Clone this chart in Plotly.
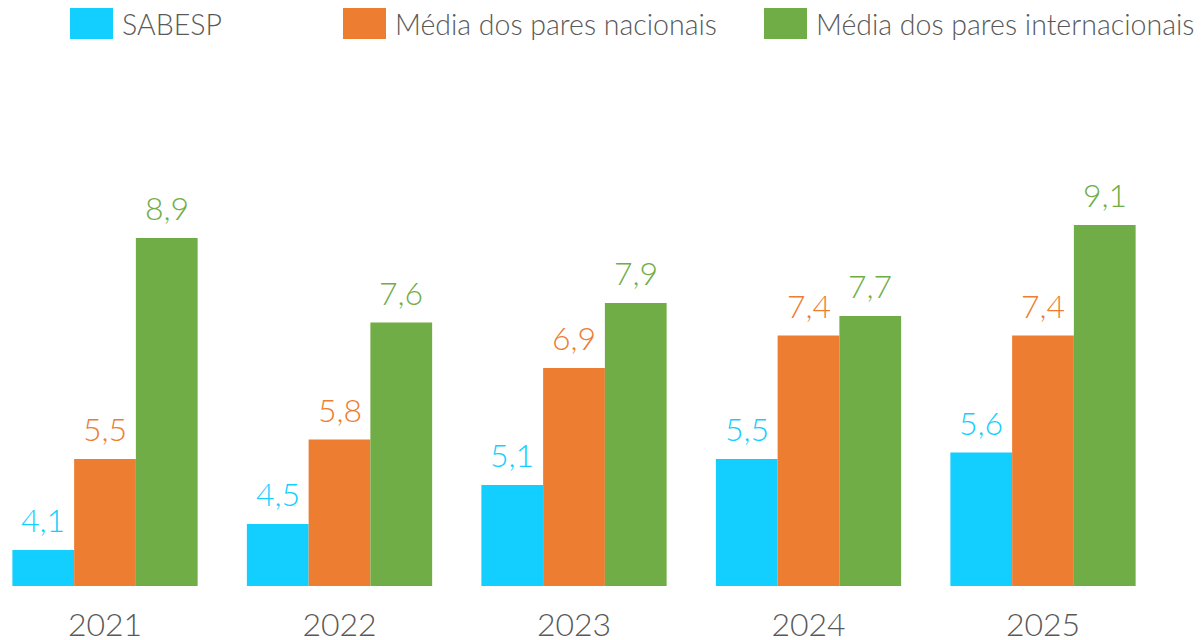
import plotly.graph_objects as go

anos = ["2021", "2022", "2023", "2024", "2025"]
series = ["SABESP", "Média dos pares nacionais", "Média dos pares internacionais"]
sabesp = [4.1, 4.5, 5.1, 5.5, 5.6]
nacionais = [5.5, 5.8, 6.9, 7.4, 7.4]
internacionais = [8.9, 7.6, 7.9, 7.7, 9.1]
cores = ["#13CFFF", "#ED7D31", "#70AD47"]

FONTE = "Lato"
CINZA = "#595959"

W, H = 1202, 640
plot_bottom = 586
x_range = [-0.4478, 4.678]
bargap = 0.21
# largura de uma barra em pixels (para posicionar os rótulos)
px_por_cat = W / (x_range[1] - x_range[0])
larg_barra = px_por_cat * (1 - bargap) / 3

fig = go.Figure()
for k, (nome, valores, cor) in enumerate(zip(series, [sabesp, nacionais, internacionais], cores)):
    fig.add_trace(go.Bar(
        x=anos, y=valores, name=nome,
        marker=dict(color=cor, line=dict(width=0)),
        showlegend=False, hoverinfo="skip",
    ))
    # rótulos de valor acima das barras
    for i, v in enumerate(valores):
        fig.add_annotation(
            x=i, y=v, text=f"{v:.1f}".replace(".", ","),
            xshift=(k - 1) * larg_barra, yshift=30,
            yanchor="middle", showarrow=False,
            font=dict(family=FONTE, size=32, color=cor, weight=300),
        )

# legenda desenhada à mão (quadrados grandes)
leg_x = [70, 343, 764]
for nome, cor, x0 in zip(series, cores, leg_x):
    fig.add_shape(type="rect", xref="paper", yref="paper",
                  x0=x0 / W, x1=(x0 + 43) / W,
                  y0=(plot_bottom - 39) / plot_bottom, y1=(plot_bottom - 8) / plot_bottom,
                  fillcolor=cor, line=dict(width=0))
    fig.add_annotation(text=nome, xref="paper", yref="paper",
                       x=(x0 + 50) / W, y=(plot_bottom - 24) / plot_bottom,
                       xanchor="left", yanchor="middle", showarrow=False,
                       font=dict(family=FONTE, size=28.5, color=CINZA, weight=300))

fig.update_layout(
    width=W, height=H,
    barmode="group", bargap=bargap, bargroupgap=0,
    plot_bgcolor="white", paper_bgcolor="white",
    margin=dict(l=0, r=0, t=0, b=H - plot_bottom),
    xaxis=dict(type="category", range=x_range, automargin=False,
               showline=False, showgrid=False, zeroline=False,
               ticks="outside", ticklen=11, tickcolor="rgba(0,0,0,0)",
               tickfont=dict(family=FONTE, size=32, color=CINZA, weight=300)),
    yaxis=dict(range=[3.546, 12.56], visible=False),
)

fig.write_html("out.html", post_script="document.body.style.margin='0';",
               config={"displayModeBar": False})
